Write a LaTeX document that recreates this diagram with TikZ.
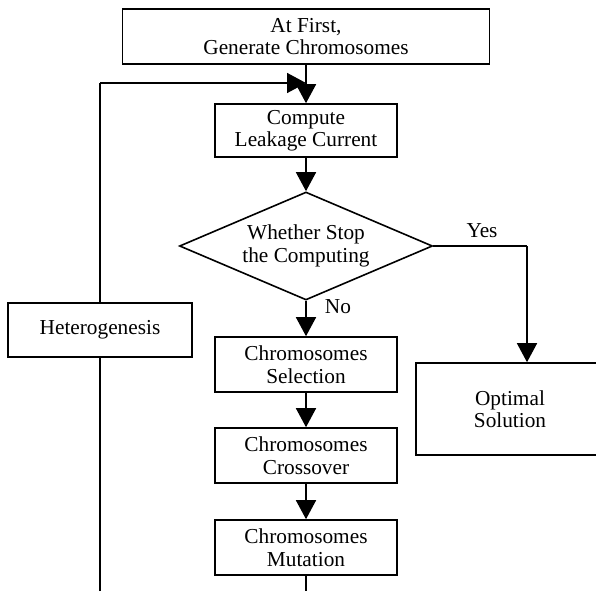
\documentclass[tikz,border=0pt]{standalone}
\usepackage{fontspec}
\setmainfont{Liberation Serif}
\usetikzlibrary{arrows.meta,shapes.geometric}

\begin{document}
\begin{tikzpicture}[x=1pt, y=-1pt, line width=1.6pt,
    font=\fontsize{21.3}{22.5}\selectfont,
    stepbox/.style={draw, fill=white, inner sep=0pt, align=center},
    askbox/.style={draw, fill=white, diamond, aspect=2.34, inner sep=0pt,
      minimum width=253, minimum height=108, align=center},
    arr/.style={-{Triangle[length=19pt, width=20pt]}}]
  \useasboundingbox (0, 0) rectangle (596, 591);

    \node[stepbox, minimum width=367, minimum height=55] (gen) at(306, 36.5){At First,\\Generate Chromosomes};
    \node[stepbox, minimum width=182, minimum height=53] (leak) at(306, 130.5){Compute\\Leakage Current};
    \node[askbox] (stop) at(306, 246){Whether Stop\\the Computing};
    \node[stepbox, minimum width=182, minimum height=55] (sel) at(306, 364.5){Chromosomes\\Selection};
    \node[stepbox, minimum width=182, minimum height=55] (cross) at(306, 455.5){Chromosomes\\Crossover};
    \node[stepbox, minimum width=182, minimum height=55] (mut) at(306, 547.5){Chromosomes\\Mutation};
    \node[stepbox, minimum width=188, minimum height=92] (opt) at(510, 409){Optimal\\Solution};
    \node[stepbox, minimum width=184, minimum height=54] (het) at(100, 330){Heterogenesis};

    \coordinate (loopend) at(100, 591);
    \coordinate (looptop) at(100, 83);
    \coordinate (mainend) at(306, 591);
    \coordinate (yesbend) at(527, 246);

    \draw[arr](gen) -- (leak);
    \draw[arr](leak) -- (stop);
    \draw[arr](stop) -- (sel);
      \node at(338, 307){No};
    \draw[arr](sel) -- (cross);
    \draw[arr](cross) -- (mut);
    \draw(mut) -- (mainend);

    \draw(stop.east) -- (yesbend);
    \draw[arr](yesbend) -- (yesbend |- opt.north);
      \node at(482, 231){Yes};

    \draw(loopend) -- (het);
    \draw(het) -- (looptop);
    \draw[arr](looptop) -- (looptop -| gen.south);
  \end{tikzpicture}
\end{document}
